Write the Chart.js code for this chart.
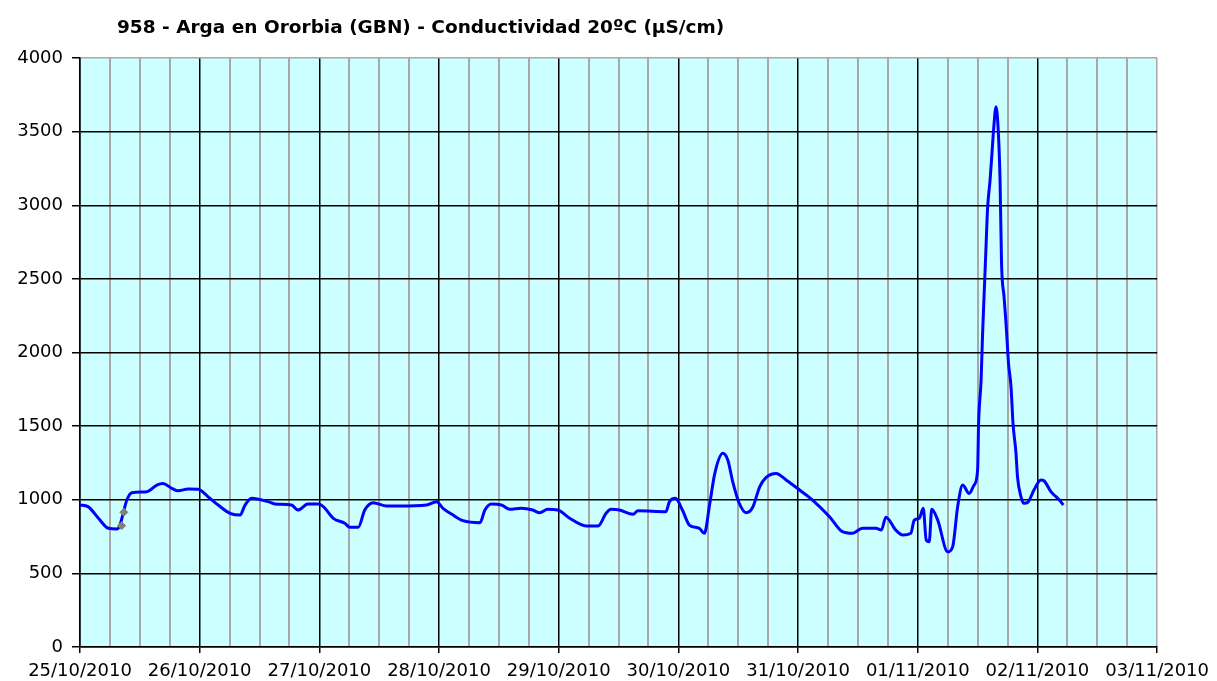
<!DOCTYPE html>
<html>
<head>
<meta charset="utf-8">
<script src="https://cdn.jsdelivr.net/npm/chart.js@4.4.1/dist/chart.umd.min.js"></script>
<style>
  body { margin: 0; background: #fff; }
  canvas { display: block; }
</style>
</head>
<body>
<canvas id="condGraph" width="1217" height="681"></canvas>
<script>
// conductivity chart

// day labels (one every 24 h)
const dayLabels = ['25/10/2010', '26/10/2010', '27/10/2010', '28/10/2010', '29/10/2010',
    '30/10/2010', '31/10/2010', '01/11/2010', '02/11/2010', '03/11/2010'];

// hours since 25/10/2010 00:00
const hours = [0, 1.6, 3.7, 5.7, 7.4, 8.0, 9.4, 10.4, 13.4, 15.4, 16.6, 18.4, 19.7, 21.7, 23.7,
    25.7, 27.7, 30.1, 32.1, 33.1, 34.4, 37.7, 39.1, 42.4, 43.7, 45.7, 47.8, 48.8, 50.8, 53.1,
    54.1, 55.8, 57.1, 58.8, 61.5, 64.1, 69.5, 71.5, 72.8, 74.8, 76.8, 80.2, 81.2, 82.5, 84.5,
    86.2, 88.5, 90.8, 92.2, 93.8, 95.8, 98.2, 101.5, 103.9, 105.5, 106.5, 108.2, 110.9, 111.9,
    117.5, 118.2, 119.4, 120.8, 122.2, 124.2, 125.2, 126.3, 127.3, 128.9, 129.9, 130.9, 132.2,
    133.6, 134.9, 136.3, 137.6, 139.6, 141.6, 144.3, 146.9, 150.3, 152.9, 154.9, 156.9, 159.6,
    160.7, 161.6, 163.6, 165.0, 166.6, 167.3, 168.3, 169.1, 169.7, 170.3, 170.8, 172.0, 174.0,
    175.0, 176.0, 177.0, 178.3, 179.3, 180.0, 180.2, 180.7, 181.0, 181.4, 181.7, 182.0, 182.5,
    182.9, 183.2, 183.7, 184.2, 184.5, 184.8, 185.3, 185.7, 186.2, 186.7, 187.1, 187.7, 188.0,
    188.7, 189.3, 190.0, 191.3, 192.7, 193.3, 194.7, 196.4, 197.2];

// conductivity values (uS/cm)
const conductivity = [964, 953, 874, 806, 801, 828, 998, 1048, 1055, 1100, 1111, 1078, 1061, 1073, 1071,
    1020, 964, 908, 896, 964, 1010, 987, 971, 964, 930, 971, 971, 953, 874, 840,
    813, 813, 930, 980, 957, 957, 964, 987, 942, 896, 858, 844, 930, 971, 964,
    935, 942, 930, 912, 935, 930, 874, 822, 822, 908, 935, 930, 901, 925,
    919, 987, 1010, 930, 828, 806, 772, 976, 1179, 1315, 1270, 1122, 976,
    912, 949, 1088, 1152, 1179, 1134, 1066, 998, 885, 783, 772, 806, 806,
    794, 881, 794, 760, 772, 862, 874, 942, 726, 715, 935, 862, 647,
    681, 953, 1100, 1043, 1100, 1202, 1519, 1813, 2130, 2470, 2730, 2979, 3171,
    3363, 3510, 3669, 3465, 3171, 2605, 2379, 2198, 1926, 1767, 1519, 1315, 1156,
    1020, 976, 980, 1066, 1134, 1129, 1055, 998, 964];

// grey marker points
const markHours = [8.35, 8.8];
const markValues = [824, 915];

const titleText = '958 - Arga en Ororbia (GBN) - Conductividad 20ºC (µS/cm)';

// background + title
const chartDeco = {
    id: 'chartDeco',
    beforeDraw(chart) {
        const { ctx, chartArea } = chart;
        ctx.save();
        ctx.fillStyle = '#ccffff';
        ctx.fillRect(chartArea.left, chartArea.top, chartArea.right - chartArea.left, chartArea.bottom - chartArea.top);
        ctx.restore();
    },
    afterDraw(chart) {
        const ctx = chart.ctx;
        ctx.save();
        ctx.font = 'bold 18.5px "DejaVu Sans"';
        ctx.fillStyle = '#000';
        ctx.textBaseline = 'alphabetic';
        ctx.fillText(titleText, 117, 33);
        ctx.restore();
    }
};

const condGraph = () => {
    var ctx = document.getElementById('condGraph').getContext('2d');
    var chart = new Chart(ctx, {
        type: 'line',
        data: {
            datasets: [{
                label: 'Conductividad',
                data: hours.map((h, i) => ({ x: h, y: conductivity[i] })),
                borderColor: '#0000ff',
                borderWidth: 3,
                borderJoinStyle: 'round',
                pointRadius: 0,
                cubicInterpolationMode: 'monotone',
                order: 2
            }, {
                label: 'marcas',
                data: markHours.map((h, i) => ({ x: h, y: markValues[i] })),
                showLine: false,
                pointStyle: 'rectRot',
                pointRadius: 4,
                backgroundColor: '#808080',
                borderColor: '#808080',
                order: 1
            }]
        },
        options: {
            responsive: false,
            animation: false,
            layout: {
                padding: { left: 0, right: 59, top: 58, bottom: 0 }
            },
            plugins: {
                legend: { display: false },
                tooltip: { enabled: false }
            },
            scales: {
                x: {
                    type: 'linear',
                    min: 0,
                    max: 216,
                    afterFit: (scale) => { scale.height = 34; },
                    ticks: {
                        stepSize: 6,
                        autoSkip: false,
                        maxRotation: 0,
                        padding: 8,
                        color: '#000',
                        font: { family: 'DejaVu Sans', size: 18 },
                        callback: (v) => (v % 24 === 0 ? dayLabels[v / 24] : '')
                    },
                    grid: {
                        lineWidth: (c) => (c.tick && c.tick.value % 24 === 0 ? 1.5 : 2),
                        tickLength: 6,
                        color: (c) => (c.tick && c.tick.value % 24 === 0 && c.tick.value !== 216 ? '#000000' : '#a8a8a8'),
                        tickColor: (c) => (c.tick && c.tick.value % 24 === 0 ? '#000000' : 'rgba(0,0,0,0)')
                    },
                    border: { color: '#000', width: 1.5 }
                },
                y: {
                    min: 0,
                    max: 4000,
                    afterFit: (scale) => { scale.width = 80; },
                    ticks: {
                        stepSize: 500,
                        padding: 9,
                        color: '#000',
                        font: { family: 'DejaVu Sans', size: 18 },
                        callback: (v) => String(v)
                    },
                    grid: {
                        lineWidth: 1.5,
                        tickLength: 8,
                        color: (c) => (c.tick && c.tick.value === 4000 ? '#a8a8a8' : '#000000'),
                        tickColor: '#000'
                    },
                    border: { color: '#000', width: 1.5 }
                }
            }
        },
        plugins: [chartDeco]
    });
};

condGraph()
</script>
</body>
</html>
